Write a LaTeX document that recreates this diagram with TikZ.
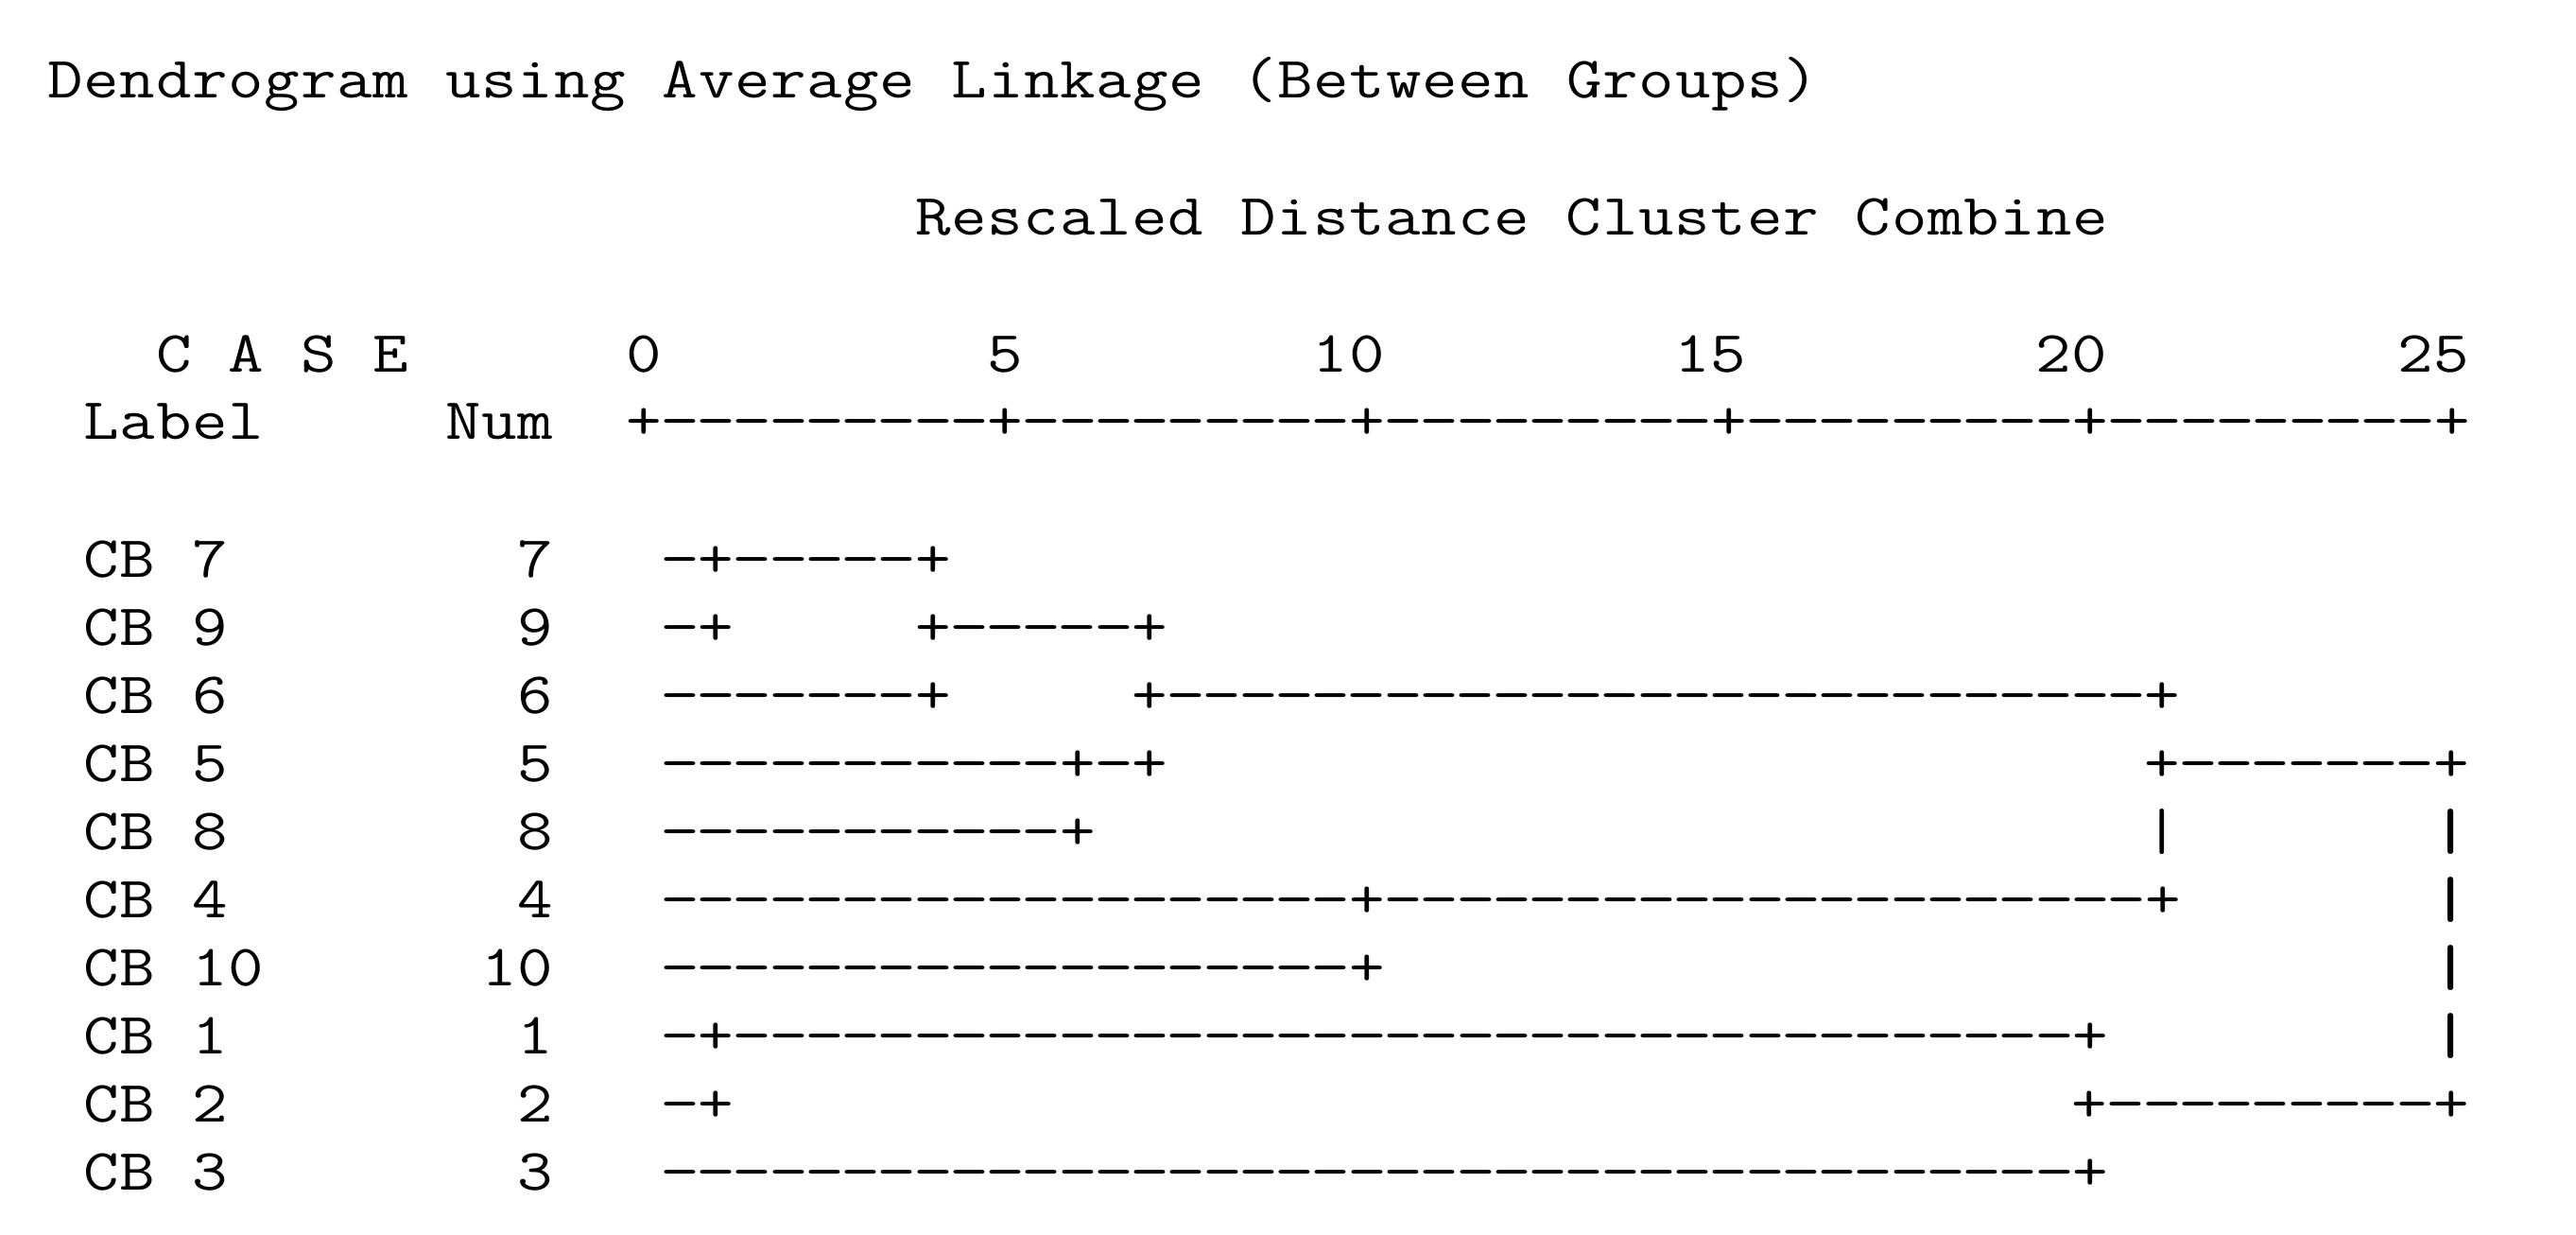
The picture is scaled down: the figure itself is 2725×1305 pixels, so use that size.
\documentclass[tikz,border=0pt]{standalone}
\usepackage{graphicx}
\newlength\cellw
\setlength\cellw{10.88pt}
\def\monoend{monoend}
\def\monostr#1{\monoloop#1\monoend}
\def\monoloop#1{\ifx#1\monoend\else\makebox[\cellw]{#1}\expandafter\monoloop\fi}
\ExplSyntaxOn
\NewDocumentCommand\dashn{m}{\prg_replicate:nn{#1}{\makebox[\cellw]{\scalebox{1.12}[1]{-}}}}
\ExplSyntaxOff
\newcommand\tline[4]{\node[txt] (#1) at ({88.3+38.24*(#2)},#3) {\scalebox{1}[0.85]{#4}};}
\begin{document}
\begin{tikzpicture}[x=0.01cm,y=-0.01cm,
  txt/.style={inner sep=0pt,outer sep=0pt,anchor=base west,font=\fontsize{20.72pt}{24pt}\ttfamily}]
\useasboundingbox (0,0) rectangle (2725,1305);
\fill[white] (0,0) rectangle (2725,1305);
% headings
\tline{title}{-1}{103}{\monostr{Dendrogram~using~Average~Linkage~(Between~Groups)}}
\tline{resc}{23}{248}{\monostr{Rescaled~Distance~Cluster~Combine}}
\tline{caseh}{2}{393}{\monostr{C~A~S~E}}
\tline{ax0}{15}{393}{\monostr{0}}
\tline{ax5}{25}{393}{\monostr{5}}
\tline{ax10}{34}{393}{\monostr{10}}
\tline{ax15}{44}{393}{\monostr{15}}
\tline{ax20}{54}{393}{\monostr{20}}
\tline{ax25}{64}{393}{\monostr{25}}
\tline{labelh}{0}{464}{\monostr{Label}}
\tline{numh}{10}{464}{\monostr{Num}}
\tline{axis}{15}{464}{\monostr{+}\dashn{9}\monostr{+}\dashn{9}\monostr{+}\dashn{9}\monostr{+}\dashn{9}\monostr{+}\dashn{9}\monostr{+}}
% case labels and numbers
\tline{l7}{0}{610+72.1*0}{\monostr{CB~7}}   \tline{n7}{12}{610+72.1*0}{\monostr{7}}
\tline{l9}{0}{610+72.1*1}{\monostr{CB~9}}   \tline{n9}{12}{610+72.1*1}{\monostr{9}}
\tline{l6}{0}{610+72.1*2}{\monostr{CB~6}}   \tline{n6}{12}{610+72.1*2}{\monostr{6}}
\tline{l5}{0}{610+72.1*3}{\monostr{CB~5}}   \tline{n5}{12}{610+72.1*3}{\monostr{5}}
\tline{l8}{0}{610+72.1*4}{\monostr{CB~8}}   \tline{n8}{12}{610+72.1*4}{\monostr{8}}
\tline{l4}{0}{610+72.1*5}{\monostr{CB~4}}   \tline{n4}{12}{610+72.1*5}{\monostr{4}}
\tline{l10}{0}{610+72.1*6}{\monostr{CB~10}} \tline{n10}{11}{610+72.1*6}{\monostr{10}}
\tline{l1}{0}{610+72.1*7}{\monostr{CB~1}}   \tline{n1}{12}{610+72.1*7}{\monostr{1}}
\tline{l2}{0}{610+72.1*8}{\monostr{CB~2}}   \tline{n2}{12}{610+72.1*8}{\monostr{2}}
\tline{l3}{0}{610+72.1*9}{\monostr{CB~3}}   \tline{n3}{12}{610+72.1*9}{\monostr{3}}
% dendrogram
\tline{d7a}{16}{610+72.1*0}{\dashn{1}\monostr{+}\dashn{5}\monostr{+}}
\tline{d9a}{16}{610+72.1*1}{\dashn{1}\monostr{+}}
\tline{d9b}{23}{610+72.1*1}{\monostr{+}\dashn{5}\monostr{+}}
\tline{d6a}{16}{610+72.1*2}{\dashn{7}\monostr{+}}
\tline{d6b}{29}{610+72.1*2}{\monostr{+}\dashn{27}\monostr{+}}
\tline{d5a}{16}{610+72.1*3}{\dashn{11}\monostr{+}\dashn{1}\monostr{+}}
\tline{d5b}{57}{610+72.1*3}{\monostr{+}\dashn{7}\monostr{+}}
\tline{d8a}{16}{610+72.1*4}{\dashn{11}\monostr{+}}
\tline{d8b}{57}{610+72.1*4}{\monostr{|}}
\tline{d8c}{65}{610+72.1*4}{\bfseries\monostr{|}}
\tline{d4a}{16}{610+72.1*5}{\dashn{19}\monostr{+}\dashn{21}\monostr{+}}
\tline{d4c}{65}{610+72.1*5}{\bfseries\monostr{|}}
\tline{d10a}{16}{610+72.1*6}{\dashn{19}\monostr{+}}
\tline{d10c}{65}{610+72.1*6}{\bfseries\monostr{|}}
\tline{d1a}{16}{610+72.1*7}{\dashn{1}\monostr{+}\dashn{37}\monostr{+}}
\tline{d1c}{65}{610+72.1*7}{\bfseries\monostr{|}}
\tline{d2a}{16}{610+72.1*8}{\dashn{1}\monostr{+}}
\tline{d2b}{55}{610+72.1*8}{\monostr{+}\dashn{9}\monostr{+}}
\tline{d3a}{16}{610+72.1*9}{\dashn{39}\monostr{+}}
\end{tikzpicture}
\end{document}
